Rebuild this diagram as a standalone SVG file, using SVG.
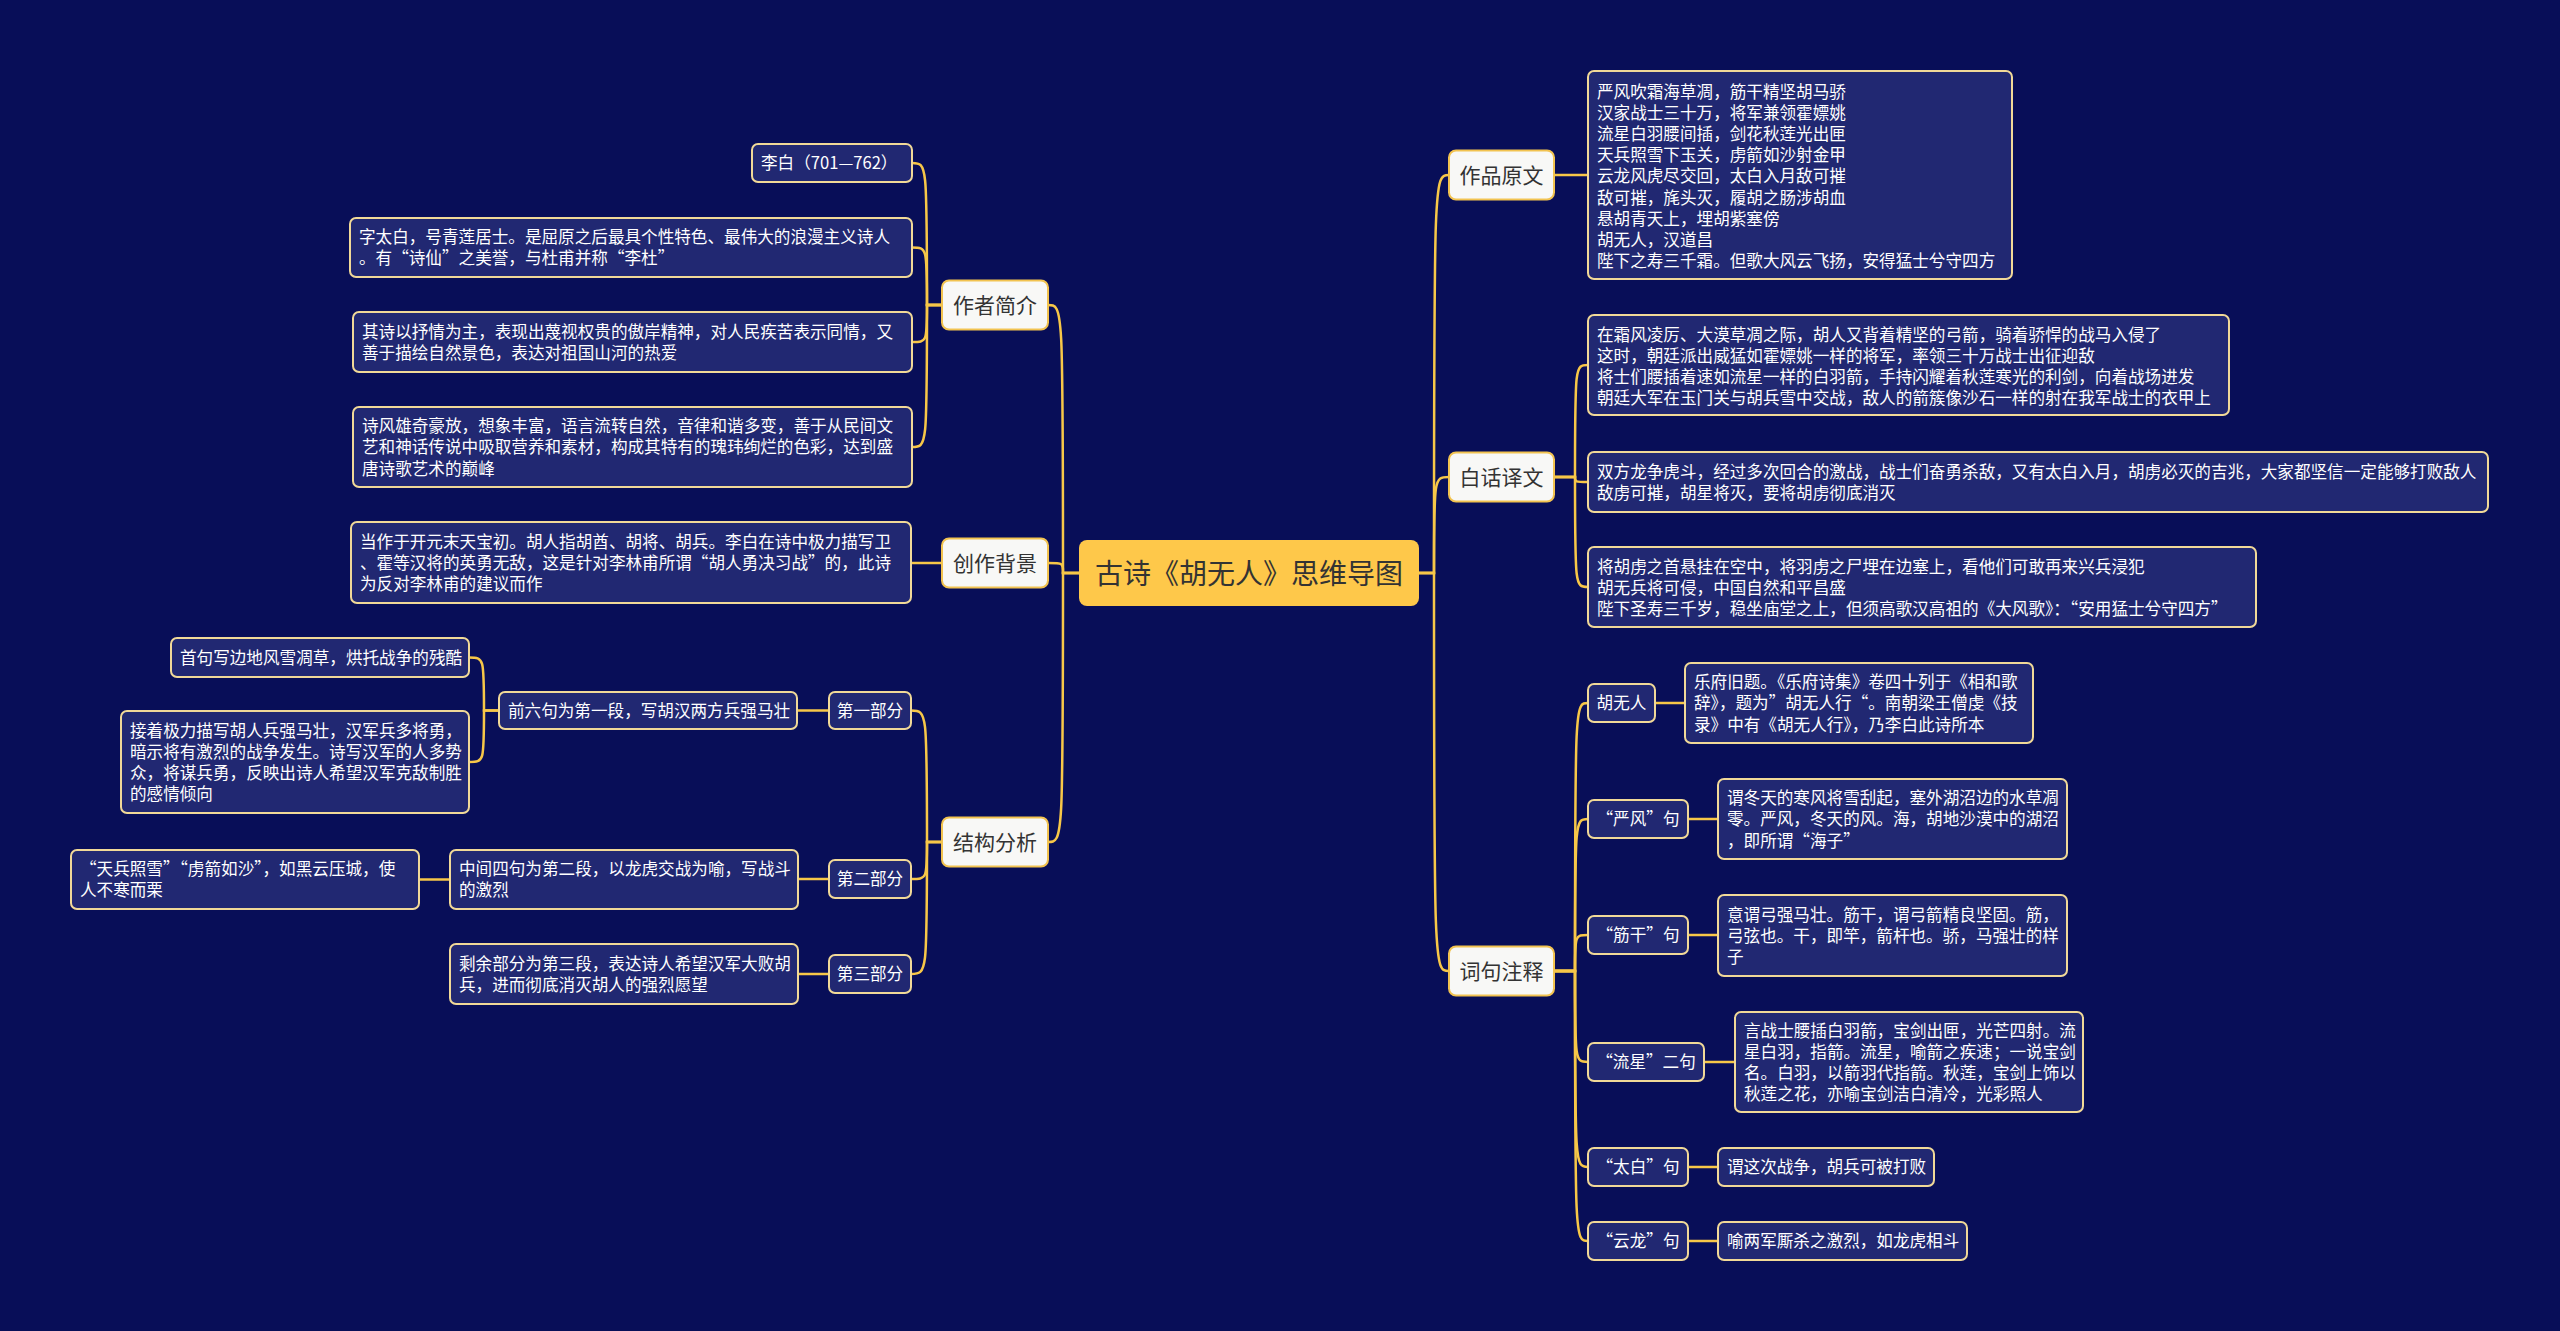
<svg xmlns="http://www.w3.org/2000/svg" width="2560" height="1331" viewBox="0 0 2560 1331">
<style>
text{font-family:"Noto Sans CJK SC","Noto Sans",sans-serif;}
.ln{fill:none;stroke:#f7c748;stroke-width:2.5;}
.root rect{fill:#fec84a;}
.root text{fill:#333333;font-size:28px;text-anchor:middle;}
.l1 rect{fill:#f8f8f6;stroke:#f2c350;stroke-width:2;}
.l1 text{fill:#333333;font-size:21px;text-anchor:middle;}
.bx rect{fill:#212872;stroke:#f1d998;stroke-width:2;}
.bx text{fill:#ffffff;font-size:16.6px;}
.lb text{text-anchor:middle;}
</style>
<rect x="0" y="0" width="2560" height="1331" fill="#080e58"/>

<g id="connectors">
<!-- central to level 1 -->
<path class="ln" d="M1419 573 H1434 C1434 175 1434 175 1449 175"/>
<path class="ln" d="M1419 573 H1434 C1434 477 1434 477 1449 477"/>
<path class="ln" d="M1419 573 H1434 C1434 971 1434 971 1449 971"/>
<path class="ln" d="M1079 573 H1063 C1063 305 1063 305 1048 305"/>
<path class="ln" d="M1079 573 H1063 C1063 563 1063 563 1048 563"/>
<path class="ln" d="M1079 573 H1063 C1063 842 1063 842 1048 842"/>
<!-- 作品原文 -->
<path class="ln" d="M1554 175 H1588"/>
<!-- 白话译文 -->
<path class="ln" d="M1554 477 H1575 C1575 365 1575 365 1588 365"/>
<path class="ln" d="M1554 477 H1575 C1575 482 1575 482 1588 482"/>
<path class="ln" d="M1554 477 H1575 C1575 587 1575 587 1588 587"/>
<!-- 词句注释 -->
<path class="ln" d="M1554 971 H1575 C1575 703 1575 703 1588 703"/>
<path class="ln" d="M1554 971 H1575 C1575 819 1575 819 1588 819"/>
<path class="ln" d="M1554 971 H1575 C1575 935 1575 935 1588 935"/>
<path class="ln" d="M1554 971 H1575 C1575 1062 1575 1062 1588 1062"/>
<path class="ln" d="M1554 971 H1575 C1575 1167 1575 1167 1588 1167"/>
<path class="ln" d="M1554 971 H1575 C1575 1241 1575 1241 1588 1241"/>
<path class="ln" d="M1655 703 H1685"/>
<path class="ln" d="M1688 819 H1718"/>
<path class="ln" d="M1688 935 H1718"/>
<path class="ln" d="M1704 1062 H1735"/>
<path class="ln" d="M1688 1167 H1718"/>
<path class="ln" d="M1688 1241 H1718"/>
<!-- 作者简介 -->
<path class="ln" d="M942 305 H927 C927 163 927 163 912 163"/>
<path class="ln" d="M942 305 H927 C927 247.5 927 247.5 912 247.5"/>
<path class="ln" d="M942 305 H927 C927 342 927 342 912 342"/>
<path class="ln" d="M942 305 H927 C927 447 927 447 912 447"/>
<!-- 创作背景 -->
<path class="ln" d="M942 563 H911"/>
<!-- 结构分析 -->
<path class="ln" d="M942 842 H927 C927 710.5 927 710.5 911 710.5"/>
<path class="ln" d="M942 842 H927 C927 879 927 879 911 879"/>
<path class="ln" d="M942 842 H927 C927 974 927 974 911 974"/>
<path class="ln" d="M829 710.5 H797"/>
<path class="ln" d="M499 710.5 H484 C484 657.5 484 657.5 469 657.5"/>
<path class="ln" d="M499 710.5 H484 C484 762 484 762 469 762"/>
<path class="ln" d="M829 879 H798"/>
<path class="ln" d="M450 879.5 H419"/>
<path class="ln" d="M829 974 H798"/>
</g>

<g id="root" class="root">
<rect x="1079" y="540" width="340" height="66" rx="8"/>
<text x="1249" y="583.6">古诗《胡无人》思维导图</text>
</g>

<g id="n-zpyw" class="l1"><rect x="1449" y="150.5" width="105" height="49" rx="7"/><text x="1501.5" y="183">作品原文</text></g>
<g id="n-bhyw" class="l1"><rect x="1449" y="452.5" width="105" height="49" rx="7"/><text x="1501.5" y="485">白话译文</text></g>
<g id="n-cjzs" class="l1"><rect x="1449" y="946.5" width="105" height="49" rx="7"/><text x="1501.5" y="979">词句注释</text></g>
<g id="n-zzjj" class="l1"><rect x="942" y="280.5" width="106" height="49" rx="7"/><text x="995" y="313">作者简介</text></g>
<g id="n-czbj" class="l1"><rect x="942" y="538.5" width="106" height="49" rx="7"/><text x="995" y="571">创作背景</text></g>
<g id="n-jgfx" class="l1"><rect x="942" y="817.5" width="106" height="49" rx="7"/><text x="995" y="850">结构分析</text></g>

<g id="n-yuanwen" class="bx"><rect x="1588" y="71" width="424" height="208" rx="6"/>
<text x="1597"><tspan x="1597" y="97.5">严风吹霜海草凋，筋干精坚胡马骄</tspan><tspan x="1597" y="118.7">汉家战士三十万，将军兼领霍嫖姚</tspan><tspan x="1597" y="139.9">流星白羽腰间插，剑花秋莲光出匣</tspan><tspan x="1597" y="161.1">天兵照雪下玉关，虏箭如沙射金甲</tspan><tspan x="1597" y="182.3">云龙风虎尽交回，太白入月敌可摧</tspan><tspan x="1597" y="203.5">敌可摧，旄头灭，履胡之肠涉胡血</tspan><tspan x="1597" y="224.7">悬胡青天上，埋胡紫塞傍</tspan><tspan x="1597" y="245.9">胡无人，汉道昌</tspan><tspan x="1597" y="267.1">陛下之寿三千霜。但歌大风云飞扬，安得猛士兮守四方</tspan></text></g>

<g id="n-bh1" class="bx"><rect x="1588" y="315" width="641" height="100" rx="6"/>
<text><tspan x="1597" y="340.5">在霜风凌厉、大漠草凋之际，胡人又背着精坚的弓箭，骑着骄悍的战马入侵了</tspan><tspan x="1597" y="361.7">这时，朝廷派出威猛如霍嫖姚一样的将军，率领三十万战士出征迎敌</tspan><tspan x="1597" y="382.9">将士们腰插着速如流星一样的白羽箭，手持闪耀着秋莲寒光的利剑，向着战场进发</tspan><tspan x="1597" y="404.1">朝廷大军在玉门关与胡兵雪中交战，敌人的箭簇像沙石一样的射在我军战士的衣甲上</tspan></text></g>

<g id="n-bh2" class="bx"><rect x="1588" y="452" width="900" height="60" rx="6"/>
<text><tspan x="1597" y="477.7">双方龙争虎斗，经过多次回合的激战，战士们奋勇杀敌，又有太白入月，胡虏必灭的吉兆，大家都坚信一定能够打败敌人</tspan><tspan x="1597" y="498.9">敌虏可摧，胡星将灭，要将胡虏彻底消灭</tspan></text></g>

<g id="n-bh3" class="bx"><rect x="1588" y="547" width="668" height="80" rx="6"/>
<text><tspan x="1597" y="573">将胡虏之首悬挂在空中，将羽虏之尸埋在边塞上，看他们可敢再来兴兵浸犯</tspan><tspan x="1597" y="594.2">胡无兵将可侵，中国自然和平昌盛</tspan><tspan x="1597" y="615.4">陛下圣寿三千岁，稳坐庙堂之上，但须高歌汉高祖的《大风歌》：“安用猛士兮守四方”</tspan></text></g>

<g id="n-hwr" class="bx lb"><rect x="1588" y="684" width="67" height="38" rx="6"/><text x="1621.5" y="709.3">胡无人</text></g>
<g id="n-hwr-d" class="bx"><rect x="1685" y="663" width="348" height="80" rx="6"/>
<text><tspan x="1694" y="688.1">乐府旧题。《乐府诗集》卷四十列于《相和歌</tspan><tspan x="1694" y="709.3">辞》，题为”胡无人行“。南朝梁王僧虔《技</tspan><tspan x="1694" y="730.5">录》中有《胡无人行》，乃李白此诗所本</tspan></text></g>

<g id="n-yf" class="bx lb"><rect x="1588" y="800" width="100" height="38" rx="6"/><text x="1638" y="825.3">“严风”句</text></g>
<g id="n-yf-d" class="bx"><rect x="1718" y="779" width="349" height="80" rx="6"/>
<text><tspan x="1727" y="804.1">谓冬天的寒风将雪刮起，塞外湖沼边的水草凋</tspan><tspan x="1727" y="825.3">零。严风，冬天的风。海，胡地沙漠中的湖沼</tspan><tspan x="1727" y="846.5">，即所谓“海子”</tspan></text></g>

<g id="n-jg" class="bx lb"><rect x="1588" y="916" width="100" height="38" rx="6"/><text x="1638" y="941.3">“筋干”句</text></g>
<g id="n-jg-d" class="bx"><rect x="1718" y="895" width="349" height="81" rx="6"/>
<text><tspan x="1727" y="920.6">意谓弓强马壮。筋干，谓弓箭精良坚固。筋，</tspan><tspan x="1727" y="941.8">弓弦也。干，即竿，箭杆也。骄，马强壮的样</tspan><tspan x="1727" y="963">子</tspan></text></g>

<g id="n-lx" class="bx lb"><rect x="1588" y="1043" width="116" height="38" rx="6"/><text x="1646" y="1068.3">“流星”二句</text></g>
<g id="n-lx-d" class="bx"><rect x="1735" y="1012" width="348" height="100" rx="6"/>
<text><tspan x="1744" y="1036.5">言战士腰插白羽箭，宝剑出匣，光芒四射。流</tspan><tspan x="1744" y="1057.7">星白羽，指箭。流星，喻箭之疾速；一说宝剑</tspan><tspan x="1744" y="1078.9">名。白羽，以箭羽代指箭。秋莲，宝剑上饰以</tspan><tspan x="1744" y="1100.1">秋莲之花，亦喻宝剑洁白清冷，光彩照人</tspan></text></g>

<g id="n-tb" class="bx lb"><rect x="1588" y="1148" width="100" height="38" rx="6"/><text x="1638" y="1173.3">“太白”句</text></g>
<g id="n-tb-d" class="bx"><rect x="1718" y="1148" width="216" height="38" rx="6"/><text x="1727" y="1173.3">谓这次战争，胡兵可被打败</text></g>

<g id="n-yl" class="bx lb"><rect x="1588" y="1222" width="100" height="38" rx="6"/><text x="1638" y="1247.3">“云龙”句</text></g>
<g id="n-yl-d" class="bx"><rect x="1718" y="1222" width="249" height="38" rx="6"/><text x="1727" y="1247.3">喻两军厮杀之激烈，如龙虎相斗</text></g>

<g id="n-libai" class="bx"><rect x="752" y="144" width="160" height="38" rx="6"/><text x="761" y="169.3">李白（701—762）</text></g>
<g id="n-ztb" class="bx"><rect x="350" y="218" width="562" height="59" rx="6"/>
<text><tspan x="359" y="243.2">字太白，号青莲居士。是屈原之后最具个性特色、最伟大的浪漫主义诗人</tspan><tspan x="359" y="264.4">。有“诗仙”之美誉，与杜甫并称“李杜”</tspan></text></g>
<g id="n-qs" class="bx"><rect x="353" y="312" width="559" height="60" rx="6"/>
<text><tspan x="362" y="337.7">其诗以抒情为主，表现出蔑视权贵的傲岸精神，对人民疾苦表示同情，又</tspan><tspan x="362" y="358.9">善于描绘自然景色，表达对祖国山河的热爱</tspan></text></g>
<g id="n-sf" class="bx"><rect x="353" y="407" width="559" height="80" rx="6"/>
<text><tspan x="362" y="432.1">诗风雄奇豪放，想象丰富，语言流转自然，音律和谐多变，善于从民间文</tspan><tspan x="362" y="453.3">艺和神话传说中吸取营养和素材，构成其特有的瑰玮绚烂的色彩，达到盛</tspan><tspan x="362" y="474.5">唐诗歌艺术的巅峰</tspan></text></g>

<g id="n-czbj-d" class="bx"><rect x="351" y="522" width="560" height="81" rx="6"/>
<text><tspan x="360" y="547.6">当作于开元末天宝初。胡人指胡酋、胡将、胡兵。李白在诗中极力描写卫</tspan><tspan x="360" y="568.8">、霍等汉将的英勇无敌，这是针对李林甫所谓“胡人勇决习战”的，此诗</tspan><tspan x="360" y="590">为反对李林甫的建议而作</tspan></text></g>

<g id="n-p1" class="bx lb"><rect x="829" y="692" width="82" height="37" rx="6"/><text x="870" y="716.8">第一部分</text></g>
<g id="n-p1-a" class="bx"><rect x="499" y="692" width="298" height="37" rx="6"/><text x="508" y="716.8">前六句为第一段，写胡汉两方兵强马壮</text></g>
<g id="n-p1-b" class="bx"><rect x="171" y="638" width="298" height="39" rx="6"/><text x="180" y="663.8">首句写边地风雪凋草，烘托战争的残酷</text></g>
<g id="n-p1-c" class="bx"><rect x="121" y="711" width="348" height="102" rx="6"/>
<text><tspan x="130" y="736.5">接着极力描写胡人兵强马壮，汉军兵多将勇，</tspan><tspan x="130" y="757.7">暗示将有激烈的战争发生。诗写汉军的人多势</tspan><tspan x="130" y="778.9">众，将谋兵勇，反映出诗人希望汉军克敌制胜</tspan><tspan x="130" y="800.1">的感情倾向</tspan></text></g>

<g id="n-p2" class="bx lb"><rect x="829" y="860" width="82" height="38" rx="6"/><text x="870" y="885.3">第二部分</text></g>
<g id="n-p2-a" class="bx"><rect x="450" y="850" width="348" height="59" rx="6"/>
<text><tspan x="459" y="875.2">中间四句为第二段，以龙虎交战为喻，写战斗</tspan><tspan x="459" y="896.4">的激烈</tspan></text></g>
<g id="n-p2-b" class="bx"><rect x="71" y="850" width="348" height="59" rx="6"/>
<text><tspan x="80" y="875.2">“天兵照雪”“虏箭如沙”，如黑云压城，使</tspan><tspan x="80" y="896.4">人不寒而栗</tspan></text></g>

<g id="n-p3" class="bx lb"><rect x="829" y="955" width="82" height="38" rx="6"/><text x="870" y="980.3">第三部分</text></g>
<g id="n-p3-a" class="bx"><rect x="450" y="944" width="348" height="60" rx="6"/>
<text><tspan x="459" y="969.7">剩余部分为第三段，表达诗人希望汉军大败胡</tspan><tspan x="459" y="990.9">兵，进而彻底消灭胡人的强烈愿望</tspan></text></g>
</svg>
